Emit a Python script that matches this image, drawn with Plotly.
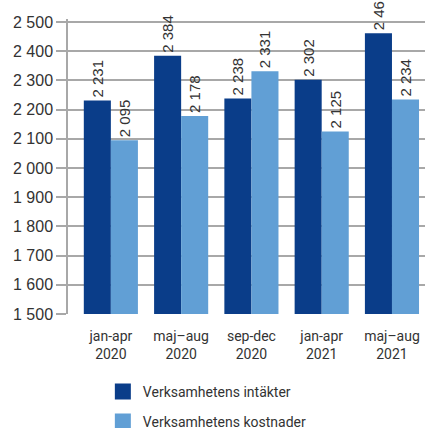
import plotly.graph_objects as go

categories = ["jan-apr<br>2020", "maj\u2013aug<br>2020", "sep-dec<br>2020", "jan-apr<br>2021", "maj\u2013aug<br>2021"]
intakter = [2231, 2384, 2238, 2302, 2461]
kostnader = [2095, 2178, 2331, 2125, 2234]
series_names = ["Verksamhetens intäkter", "Verksamhetens kostnader"]
colors = ["#0A3D89", "#619FD5"]

def fmt(v):
    s = f"{v:,}".replace(",", " ")
    return s

x_idx = list(range(len(categories)))
FONT = "Liberation Sans"

fig = go.Figure()
for name, vals, col in zip(series_names, [intakter, kostnader], colors):
    fig.add_trace(go.Bar(
        x=x_idx, y=vals, name=name, marker=dict(color=col, line=dict(width=0)),
        text=[fmt(v) for v in vals], textposition="outside", textangle=-90,
        constraintext="none",
        textfont=dict(family=FONT, size=15, color="#333333"),
        cliponaxis=False, showlegend=False,
    ))
for i, (name, col) in enumerate(zip(series_names, colors)):
    fig.add_trace(go.Scatter(
        x=[None], y=[None], mode="markers", name=name,
        marker=dict(symbol="square", size=16, color=col),
        legendgroup=f"g{i}",
    ))

fig.update_layout(
    width=425, height=428,
    margin=dict(l=68, r=0, t=19, b=114, autoexpand=False),
    paper_bgcolor="white", plot_bgcolor="white",
    barmode="group", bargap=0.23, bargroupgap=0,
    separators=", ",
    font=dict(family=FONT, color="#333333"),
    xaxis=dict(
        range=[-0.61, 4.47], tickvals=x_idx, ticktext=categories,
        showgrid=False, zeroline=False, showline=False, ticks="",
        tickfont=dict(family="Roboto", size=14, color="#333333"),
        ticklabelstandoff=12, tickangle=0, automargin=False,
    ),
    yaxis=dict(
        range=[1500, 2510], tickvals=list(range(1500, 2501, 100)),
        ticktext=[fmt(v) for v in range(1500, 2501, 100)],
        showgrid=True, gridcolor="#A8A8A8", gridwidth=1.5,
        showline=True, linecolor="#A8A8A8", linewidth=1.5,
        ticks="outside", ticklen=10, tickcolor="#A8A8A8", tickwidth=1.5,
        zeroline=False, automargin=False,
        tickfont=dict(family=FONT, size=16, color="#333333"),
    ),
    legend=dict(
        xref="container", yref="container", x=0.242, y=0.122,
        xanchor="left", yanchor="top",
        font=dict(family="Roboto", size=14, color="#333333"),
        tracegroupgap=9, bgcolor="rgba(0,0,0,0)",
    ),
)

fig.write_html("out.html", config={"displayModeBar": False},
               post_script="document.body.style.margin='0';document.body.style.overflow='hidden';")
